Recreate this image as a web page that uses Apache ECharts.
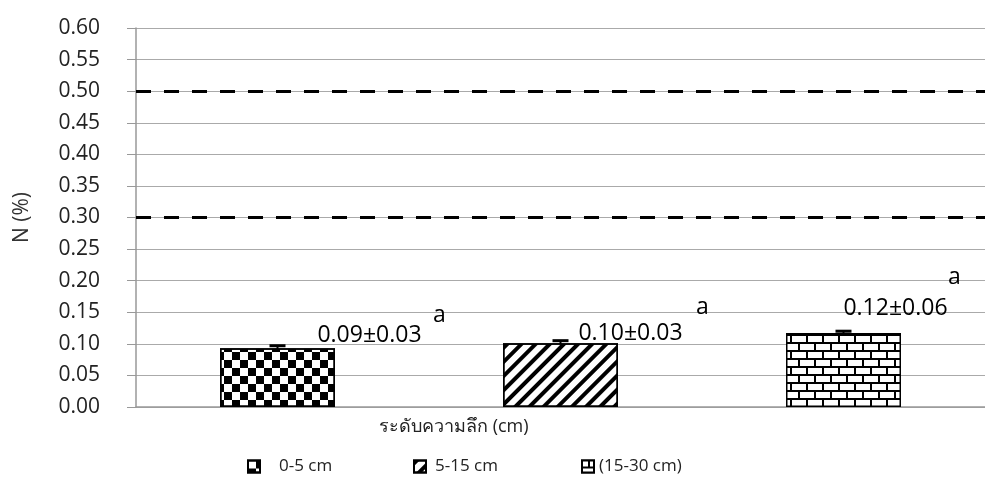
<!DOCTYPE html>
<html>
<head>
<meta charset="utf-8">
<script src="https://cdn.jsdelivr.net/npm/echarts@6/dist/echarts.min.js"></script>
<style>html,body{margin:0;padding:0;background:#fff}#c{width:985px;height:480px}</style>
</head>
<body>
<div id="c"></div>
<script>
var categories = ['0-5 cm', '5-15 cm', '(15-30 cm)'];
var nValues = [0.093, 0.101, 0.117];
var nErrors = [0.004, 0.004, 0.003];
var valueLabels = ['0.09±0.03', '0.10±0.03', '0.12±0.06'];
var letterLabels = ['a', 'a', 'a'];
var yTicks = [0, 0.05, 0.1, 0.15, 0.2, 0.25, 0.3, 0.35, 0.4, 0.45, 0.5, 0.55, 0.6];
var refLines = [0.5, 0.3];

var FONT = 'Open Sans';
var chart = echarts.init(document.getElementById('c'));

var decals = [
  {color: '#000', symbol: 'rect', symbolSize: 1, dashArrayX: [[8, 8], [0, 8, 8, 0]], dashArrayY: [8, 0]},
  {color: '#000', symbol: 'rect', symbolSize: 1, dashArrayX: [1, 0], dashArrayY: [4, 6], rotation: -Math.PI / 4},
  {color: '#fff', symbol: 'rect', symbolSize: 1, dashArrayX: [[14, 2], [6, 2, 8, 0]], dashArrayY: [6, 2]}
];
var baseColors = ['#fff', '#fff', '#000'];

var barData = nValues.map(function (v, i) {
  return {
    value: v,
    itemStyle: {color: baseColors[i], borderColor: '#000', borderWidth: 1.5, decal: decals[i]}
  };
});

var numOffsets = [[92, -13], [70, -10], [52, -25]];
var letOffsets = [[162, -33], [142, -36], [111, -56]];

var option = {
  animation: false,
  backgroundColor: '#fff',
  title: {
    text: 'ระดับความลึก (cm)',
    left: 374, top: 413,
    textStyle: {fontFamily: FONT, fontSize: 18, fontWeight: 'normal', color: '#222'}
  },
  legend: categories.map(function (c, i) {
    var lefts = [242, 408, 576];
    var pads = [14, 4, 0];
    return {
      data: [{name: c, icon: 'rect'}], left: lefts[i], top: 453, itemWidth: 12, itemHeight: 12,
      textStyle: {fontFamily: FONT, fontSize: 17, color: '#222', padding: [0, 0, 0, pads[i]]}
    };
  }),
  grid: {left: 136, width: 858, top: 28, bottom: 73},
  xAxis: {
    type: 'category', data: categories,
    axisLine: {lineStyle: {color: '#999', width: 1.5}},
    axisTick: {show: false}, axisLabel: {show: false}
  },
  yAxis: {
    type: 'value', min: 0, max: 0.6, interval: 0.05,
    name: 'N (%)', nameLocation: 'middle', nameGap: 103,
    nameTextStyle: {fontFamily: FONT, fontSize: 21, color: '#333'},
    axisLine: {show: true, lineStyle: {color: '#999', width: 1.5}},
    axisTick: {show: true, length: 9, lineStyle: {color: '#999'}},
    axisLabel: {
      margin: 36, fontFamily: FONT, fontSize: 21, color: '#222',
      formatter: function (v) { return v.toFixed(2); }
    },
    splitLine: {lineStyle: {color: '#aaa', width: 1.2}}
  },
  series: categories.map(function (c, i) {
    var d = [null, null, null];
    d[i] = barData[i];
    return {
      name: c, type: 'bar', stack: 'all', barWidth: 115,
      itemStyle: {color: baseColors[i], borderColor: '#000', borderWidth: 1.5, decal: decals[i]},
      data: d,
      markLine: i === 0 ? {
        silent: true, symbol: 'none', label: {show: false},
        lineStyle: {color: '#000', width: 3, type: [15, 13]},
        data: refLines.map(function (y) { return {yAxis: y}; })
      } : undefined
    };
  }).concat([
    {
      type: 'custom', silent: true,
      data: nValues.map(function (v, i) { return [i, v, nErrors[i]]; }),
      renderItem: function (params, api) {
        var x = api.coord([api.value(0), 0])[0];
        var lo = api.coord([api.value(0), api.value(1) - api.value(2)])[1];
        var hi = api.coord([api.value(0), api.value(1) + api.value(2)])[1];
        var s = {stroke: '#000', lineWidth: 3};
        return {type: 'group', children: [
          {type: 'line', shape: {x1: x, y1: lo, x2: x, y2: hi}, style: {stroke: '#000', lineWidth: 2}},
          {type: 'line', shape: {x1: x - 8, y1: hi, x2: x + 8, y2: hi}, style: s}
        ]};
      }
    },
    {
      type: 'scatter', silent: true, symbolSize: 0, itemStyle: {opacity: 1},
      data: nValues.map(function (v, i) {
        return {value: [i, v], label: {show: true, position: 'inside', offset: numOffsets[i],
          formatter: valueLabels[i], fontFamily: FONT, fontSize: 23, color: '#000'}};
      })
    },
    {
      type: 'scatter', silent: true, symbolSize: 0, itemStyle: {opacity: 1},
      data: nValues.map(function (v, i) {
        return {value: [i, v], label: {show: true, position: 'inside', offset: letOffsets[i],
          formatter: letterLabels[i], fontFamily: FONT, fontSize: 23, color: '#000'}};
      })
    }
  ])
};
chart.setOption(option);
</script>
</body>
</html>
